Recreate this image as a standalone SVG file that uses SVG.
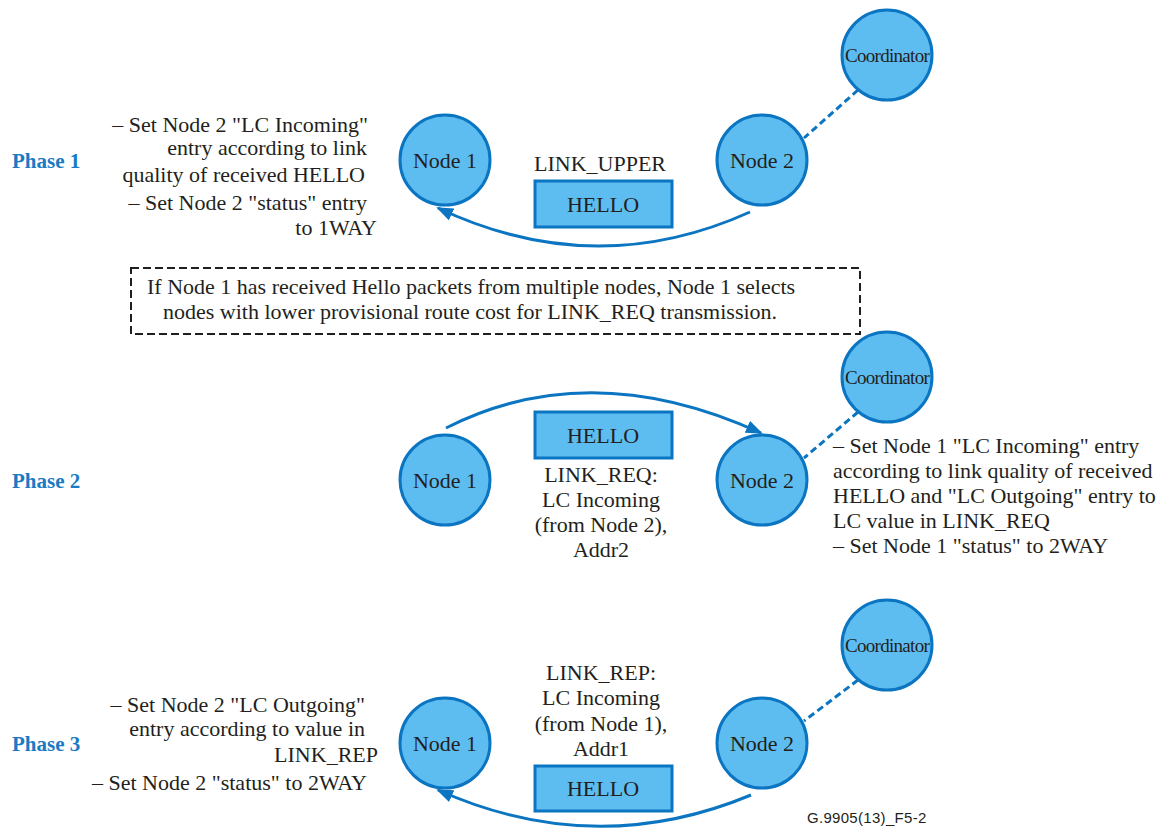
<svg xmlns="http://www.w3.org/2000/svg" width="1162" height="829" viewBox="0 0 1162 829">
<style>
.bg{fill:#ffffff}
.node{fill:#5DBDF1;stroke:#0B75C1;stroke-width:3}
.box{fill:#5DBDF1;stroke:#0B75C1;stroke-width:3}
.t{font-family:"Liberation Serif","Times New Roman",serif;font-size:22px;fill:#231F20}
.c{text-anchor:middle}
.e{text-anchor:end}
.coord{font-family:"Liberation Serif","Times New Roman",serif;font-size:19px;fill:#231F20;text-anchor:middle;letter-spacing:-0.7px}
.phase{font-family:"Liberation Serif","Times New Roman",serif;font-size:21px;font-weight:bold;fill:#1A7AC4}
.arrow{fill:none;stroke:#0B75C1;stroke-width:3}
.dash{fill:none;stroke:#0B75C1;stroke-width:3;stroke-dasharray:7 4}
.note{fill:none;stroke:#231F20;stroke-width:2;stroke-dasharray:8 4}
.fig{font-family:"Liberation Sans",Arial,sans-serif;font-size:15px;fill:#231F20;letter-spacing:0.3px}
</style>
<defs>
<marker id="ah" markerUnits="userSpaceOnUse" markerWidth="17" markerHeight="13" refX="15" refY="6.5" orient="auto">
<path d="M0,0 L17,6.5 L0,13 z" fill="#0B75C1"/>
</marker>
</defs>
<rect class="bg" x="0" y="0" width="1162" height="829"/>

<g id="phase-labels">
<text class="phase" x="12" y="168">Phase 1</text>
<text class="phase" x="12" y="488">Phase 2</text>
<text class="phase" x="12" y="751">Phase 3</text>
</g>

<g id="connectors">
<path class="arrow" d="M750,212 Q595,282 438,208" marker-end="url(#ah)"/>
<line class="dash" x1="858" y1="90" x2="804" y2="138"/>
<path class="arrow" d="M446,428 Q590,355 761,433" marker-end="url(#ah)"/>
<line class="dash" x1="858" y1="412" x2="804" y2="458"/>
<path class="arrow" d="M751,795 Q595,860 438,790" marker-end="url(#ah)"/>
<line class="dash" x1="858" y1="680" x2="804" y2="721"/>
</g>

<g id="p1-node1"><circle class="node" cx="445" cy="160" r="45"/><text class="t c" x="445" y="168">Node 1</text></g>
<g id="p1-node2"><circle class="node" cx="762" cy="160" r="45"/><text class="t c" x="762" y="168">Node 2</text></g>
<g id="p1-coord"><circle class="node" cx="887" cy="55" r="45"/><text class="coord" x="887" y="62">Coordinator</text></g>
<g id="p1-msg">
<text class="t c" x="600" y="171">LINK_UPPER</text>
<rect class="box" x="535" y="181" width="137" height="46"/>
<text class="t c" x="603" y="212">HELLO</text>
</g>
<g id="p1-text">
<text class="t e" x="368" y="132">– Set Node 2 "LC Incoming"</text>
<text class="t e" x="367" y="155">entry according to link</text>
<text class="t e" x="365" y="182">quality of received HELLO</text>
<text class="t e" x="367" y="210">– Set Node 2 "status" entry</text>
<text class="t e" x="377" y="235">to 1WAY</text>
</g>

<g id="note">
<rect class="note" x="131" y="268" width="729" height="66"/>
<text class="t" x="147" y="294">If Node 1 has received Hello packets from multiple nodes, Node 1 selects</text>
<text class="t" x="163" y="319">nodes with lower provisional route cost for LINK_REQ transmission.</text>
</g>

<g id="p2-node1"><circle class="node" cx="445" cy="480" r="45"/><text class="t c" x="445" y="488">Node 1</text></g>
<g id="p2-node2"><circle class="node" cx="762" cy="480" r="45"/><text class="t c" x="762" y="488">Node 2</text></g>
<g id="p2-coord"><circle class="node" cx="887" cy="377" r="45"/><text class="coord" x="887" y="384">Coordinator</text></g>
<g id="p2-msg">
<rect class="box" x="535" y="412" width="137" height="46"/>
<text class="t c" x="603" y="443">HELLO</text>
<text class="t c" x="601" y="482">LINK_REQ:</text>
<text class="t c" x="601" y="507">LC Incoming</text>
<text class="t c" x="601" y="532">(from Node 2),</text>
<text class="t c" x="601" y="557">Addr2</text>
</g>
<g id="p2-text">
<text class="t" x="833" y="453">– Set Node 1 "LC Incoming" entry</text>
<text class="t" x="833" y="478">according to link quality of received</text>
<text class="t" x="833" y="503">HELLO and "LC Outgoing" entry to</text>
<text class="t" x="833" y="528">LC value in LINK_REQ</text>
<text class="t" x="833" y="553">– Set Node 1 "status" to 2WAY</text>
</g>

<g id="p3-node1"><circle class="node" cx="445" cy="743" r="45"/><text class="t c" x="445" y="751">Node 1</text></g>
<g id="p3-node2"><circle class="node" cx="762" cy="743" r="45"/><text class="t c" x="762" y="751">Node 2</text></g>
<g id="p3-coord"><circle class="node" cx="887" cy="645" r="45"/><text class="coord" x="887" y="652">Coordinator</text></g>
<g id="p3-msg">
<text class="t c" x="601" y="680">LINK_REP:</text>
<text class="t c" x="601" y="705">LC Incoming</text>
<text class="t c" x="601" y="731">(from Node 1),</text>
<text class="t c" x="601" y="756">Addr1</text>
<rect class="box" x="535" y="766" width="137" height="45"/>
<text class="t c" x="603" y="796">HELLO</text>
</g>
<g id="p3-text">
<text class="t e" x="365" y="712">– Set Node 2 "LC Outgoing"</text>
<text class="t e" x="365" y="736">entry according to value in</text>
<text class="t e" x="378" y="762">LINK_REP</text>
<text class="t e" x="367" y="790">– Set Node 2 "status" to 2WAY</text>
</g>

<text class="fig" x="807" y="823">G.9905(13)_F5-2</text>
</svg>
